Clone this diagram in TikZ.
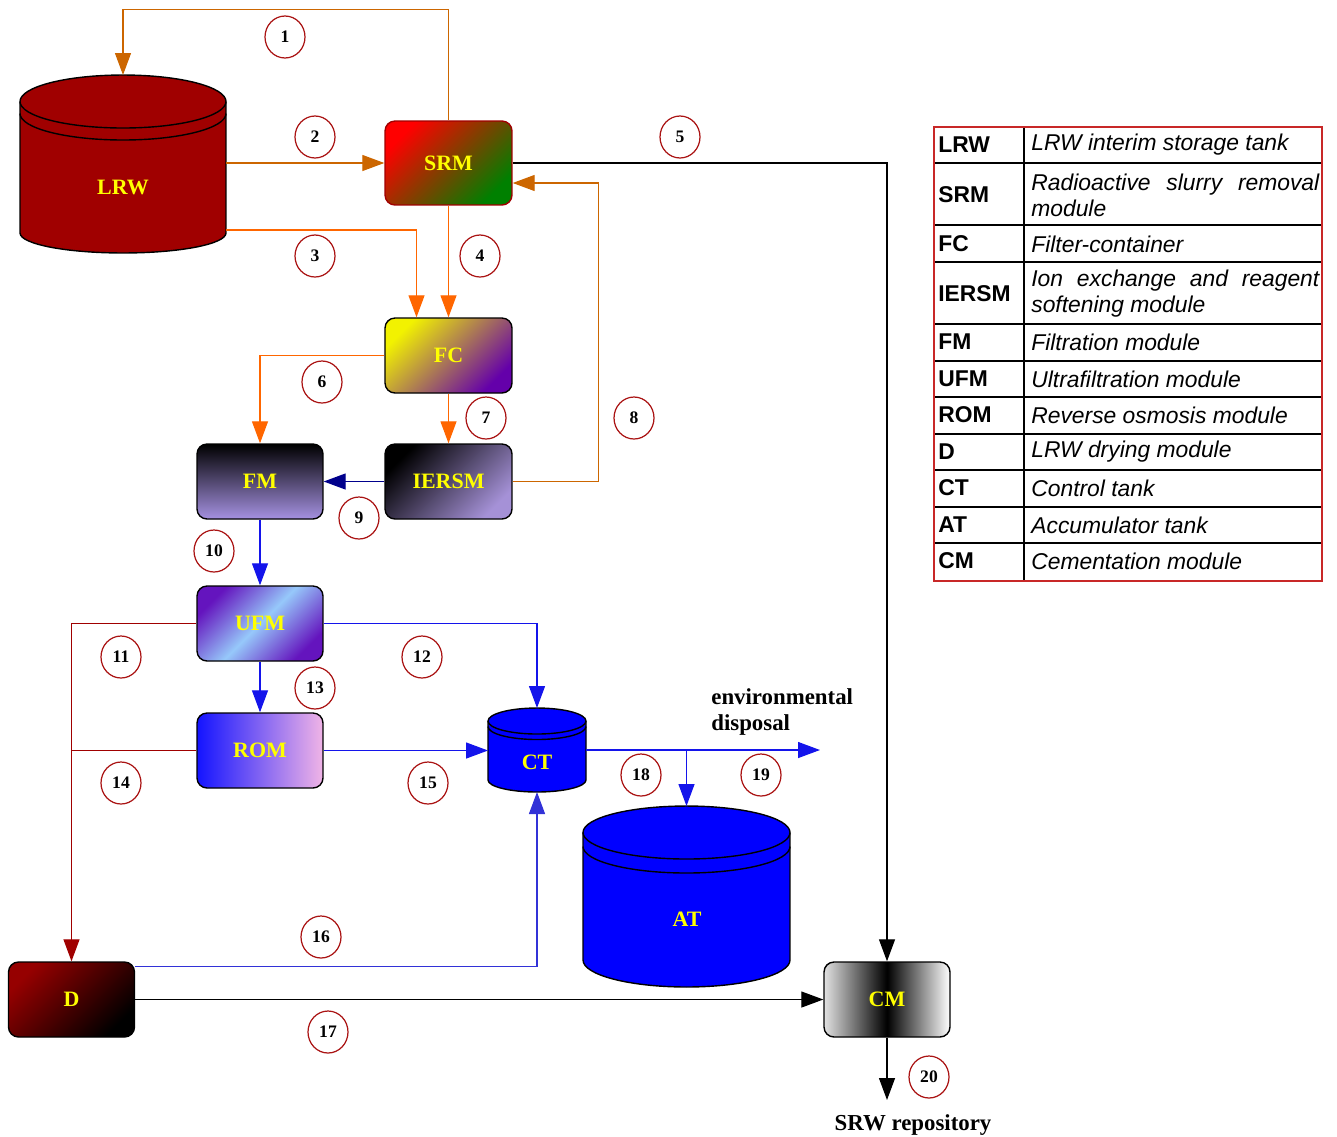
\documentclass[tikz,border=0pt]{standalone}
\usepackage{fontspec}
\setmainfont{Liberation Serif}
\setsansfont{Liberation Sans}
\usetikzlibrary{arrows.meta,shapes.geometric}

\definecolor{lrwred}{RGB}{160,0,0}
\definecolor{darkorange}{RGB}{204,102,0}
\definecolor{brightorange}{RGB}{255,102,0}
\definecolor{tankblue}{RGB}{0,0,255}
\definecolor{flowblue}{RGB}{20,20,235}
\definecolor{dryblue}{RGB}{50,50,215}
\definecolor{navyflow}{RGB}{0,0,140}
\definecolor{numred}{RGB}{170,20,20}
\definecolor{legendred}{RGB}{200,40,40}
\definecolor{labelyellow}{RGB}{255,255,0}
\definecolor{fcpurple}{RGB}{100,0,170}
\definecolor{iersmlilac}{RGB}{165,145,215}
\definecolor{fmlilac}{RGB}{165,145,225}
\definecolor{romblue}{RGB}{20,20,255}
\definecolor{rompink}{RGB}{240,180,230}
\definecolor{dred}{RGB}{150,0,0}
\definecolor{ufmpurple}{RGB}{100,20,190}
\definecolor{ufmlight}{RGB}{150,200,250}
\definecolor{cmlight}{RGB}{225,225,225}

\pgfdeclarehorizontalshading{ufmshade}{100bp}{color(0bp)=(ufmpurple); color(25bp)=(ufmpurple); color(50bp)=(ufmlight); color(75bp)=(ufmpurple); color(100bp)=(ufmpurple)}
\pgfdeclarehorizontalshading{cmshade}{100bp}{color(0bp)=(cmlight); color(25bp)=(cmlight); color(50bp)=(black); color(75bp)=(white); color(100bp)=(white)}

\tikzset{
  module/.style={draw=black, line width=0.8pt, rounded corners=0.2cm, minimum width=2.52cm,
    minimum height=1.5cm, inner sep=0pt, text=labelyellow, font=\fontsize{12.5}{14}\selectfont\bfseries},
  tankbox/.style={inner sep=0pt, outer sep=0pt},
  tanklabel/.style={text=labelyellow, font=\fontsize{12.5}{14}\selectfont\bfseries},
  num/.style={ellipse, draw=numred, line width=0.7pt, minimum width=0.8cm, minimum height=0.84cm,
    inner sep=0pt, font=\fontsize{10}{12}\selectfont\bfseries},
  flow/.style={line width=0.7pt, -{Triangle[length=0.44cm,width=0.32cm]}},
  abbr/.style={anchor=west, inner sep=0pt, font=\fontsize{13}{15}\selectfont\sffamily\bfseries},
  desc/.style={anchor=west, inner sep=0pt, text width=5.76cm, align=justify,
    font=\fontsize{13}{14.7}\selectfont\sffamily\itshape},
}

% tank: node, fill, x radius, top y radius, bottom y radius, band offset
\newcommand{\drawtank}[6]{%
  \filldraw[draw=black, line width=0.8pt, fill=#2]
    ([yshift=-#4]#1.north west) -- ([yshift=#5]#1.south west)
    arc[start angle=180, end angle=360, x radius=#3, y radius=#5]
    -- ([yshift=-#4]#1.north east)
    arc[start angle=0, end angle=180, x radius=#3, y radius=#4] -- cycle;
  \draw[line width=0.8pt] ([yshift=-#4]#1.north west)
    arc[start angle=180, end angle=360, x radius=#3, y radius=#4];
  \draw[line width=0.8pt] ([yshift=-#4-#6]#1.north west)
    arc[start angle=180, end angle=360, x radius=#3, y radius=#4];
}

\begin{document}
\begin{tikzpicture}[x=0.02cm, y=-0.02cm]
  \useasboundingbox (0,0) rectangle (1337,1136);

  % tanks
  \node[tankbox, minimum width=4.12cm, minimum height=3.56cm] (lrw) at (123,164) {};
  \drawtank{lrw}{lrwred}{2.06cm}{0.53cm}{0.4cm}{0.24cm}
  \node[tanklabel] (lrwlbl) at (123,187) {LRW};

  \node[tankbox, minimum width=1.96cm, minimum height=1.68cm] (ct) at (537,750) {};
  \drawtank{ct}{tankblue}{0.98cm}{0.26cm}{0.24cm}{0.11cm}
  \node[tanklabel] (ctlbl) at (537,762) {CT};

  \node[tankbox, minimum width=4.14cm, minimum height=3.62cm] (at) at (686.5,896.5) {};
  \drawtank{at}{tankblue}{2.07cm}{0.53cm}{0.54cm}{0.28cm}
  \node[tanklabel] (atlbl) at (687,919) {AT};

  % modules
  \node[module, minimum width=2.54cm, minimum height=1.68cm, draw=lrwred, top color=red,
    bottom color=green!50!black, shading angle=45] (srm) at (448.5,163) {SRM};
  \node[module, minimum width=2.54cm, top color=yellow!95!black, bottom color=fcpurple,
    shading angle=45] (fc) at (448.5,355.5) {FC};
  \node[module, minimum width=2.54cm, top color=black, bottom color=iersmlilac,
    shading angle=45] (iersm) at (448.5,481.5) {IERSM};
  \node[module, top color=black, bottom color=fmlilac] (fm) at (260,481.5) {FM};
  \node[module, shade, shading=ufmshade, shading angle=-45] (ufm) at (260,623.5) {UFM};
  \node[module, left color=romblue, right color=rompink] (rom) at (260,750.5) {ROM};
  \node[module, top color=dred, bottom color=black, shading angle=45] (d) at (71.5,999.5) {D};
  \node[module, shade, shading=cmshade] (cm) at (887,999.5) {CM};

  % flows
  \draw[flow, darkorange] (srm.north) -- ++(0,-111) -| (lrw.north);
  \draw[flow, darkorange] (lrw.east |- srm.west) -- (srm.west);
  \draw[flow, brightorange] ([yshift=0.46cm]lrw.south east) -| ([xshift=-0.64cm]fc.north);
  \draw[flow, brightorange] (srm.south) -- (fc.north);
  \draw[flow, black] (srm.east) -| (cm.north);
  \draw[flow, brightorange] (fc.west) -| (fm.north);
  \draw[flow, brightorange] (fc.south) -- (iersm.north);
  \draw[flow, darkorange] (iersm.east) -- ++(86,0) |- ([yshift=-0.4cm]srm.east);
  \draw[flow, navyflow] (iersm.west) -- (fm.east);
  \draw[flow, flowblue] (fm.south) -- (ufm.north);
  \draw[flow, lrwred] (ufm.west) -| (d.north);
  \draw[flow, flowblue] (ufm.east) -| (ct.north);
  \draw[flow, flowblue] (ufm.south) -- (rom.north);
  \draw[line width=0.7pt, lrwred] (rom.west) -- (rom.west -| d.north);
  \draw[flow, flowblue] (rom.east) -- (ct.west |- rom.east);
  \draw[flow, dryblue] ([yshift=-0.1cm]d.north east) -| (ct.south);
  \draw[flow, black] (d.east) -- (cm.west);
  \coordinate (envout) at (820,750);
  \draw[flow, flowblue] (ct.east) -- (envout);
  \draw[flow, flowblue] (ct.east -| at.north) -- (at.north);
  \coordinate (repo) at (887,1100);
  \draw[flow, black] (cm.south) -- (repo);

  \node[anchor=west, align=left, inner sep=0pt, font=\fontsize{13}{14.7}\selectfont\bfseries]
    (envtxt) at (711,712) {environmental\\disposal};
  \node[inner sep=0pt, font=\fontsize{13}{15}\selectfont\bfseries] (repotxt) at (913,1125) {SRW repository};

  % stream numbers
  \foreach \n/\x/\y in {1/285/37, 2/315/137, 3/315/256, 4/480/256, 5/680/137, 6/322/382, 7/486/418,
    8/634/418, 9/359/518, 10/214/551, 11/121/657, 12/422/657, 13/315/688, 14/121/783, 15/428/783,
    16/321/937, 17/328/1032, 18/641/775, 19/761/775, 20/929/1077}
    \node[num] (n\n) at (\x,\y) {\n};

  % legend
  \foreach \y in {163,225,262,324,361,397,434,470,507,543}
    \draw[line width=0.6pt] (934,\y) -- (1322,\y);
  \draw[line width=0.6pt] (1024,127) -- (1024,581);
  \draw[legendred, line width=0.8pt] (934,127) rectangle (1322,581);
  \foreach \ab/\y/\desc in {LRW/145/{LRW interim storage tank},
    SRM/195/{Radioactive slurry removal\linebreak module},
    FC/244/{Filter-container},
    IERSM/294/{Ion exchange and reagent\linebreak softening module},
    FM/342/{Filtration module}, UFM/379/{Ultrafiltration module},
    ROM/415/{Reverse osmosis module}, D/452/{LRW drying module},
    CT/488/{Control tank}, AT/525/{Accumulator tank}, CM/561/{Cementation module}} {
    \node[abbr] (ab-\ab) at (938,\y) {\ab};
    \node[desc] (de-\ab) at (1031,\y) {\desc};
  }
\end{tikzpicture}
\end{document}
